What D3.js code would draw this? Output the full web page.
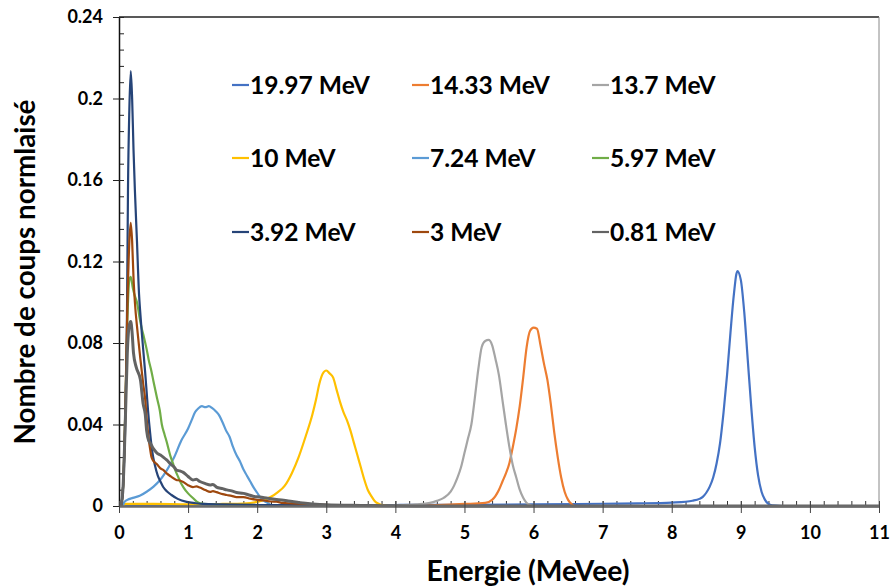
<!DOCTYPE html>
<html><head><meta charset="utf-8">
<script src="https://cdn.jsdelivr.net/npm/d3@7"></script>
<style>body{margin:0;background:#fff}svg{display:block}text{font-family:Lato,"Open Sans",sans-serif;font-weight:bold;fill:#000}</style>
</head><body>
<svg id="c" width="893" height="587"></svg>
<script>
// ---- data (energy MeVee, normalised counts) ----
const seriesNames = ["19.97 MeV","14.33 MeV","13.7 MeV","10 MeV","7.24 MeV","5.97 MeV","3.92 MeV","3 MeV","0.81 MeV"];
const seriesColors = ["#4472C4","#ED7D31","#A5A5A5","#FFC000","#5B9BD5","#70AD47","#264478","#9E480E","#636363"];
const xTicks = [0,1,2,3,4,5,6,7,8,9,10,11];
const yTicks = [0,0.04,0.08,0.12,0.16,0.2,0.24];
const yTickLabels = ["0","0.04","0.08","0.12","0.16","0.2","0.24"];

const s1997 = [[0.05,0],[1,0.0002],[2,0.0003],[3,0.0004],[4,0.0005],[5,0.0006],[6,0.0008],[7,0.0011],[7.5,0.0013],[8,0.0017],[8.2,0.0021],[8.3,0.0026],[8.4,0.0035],[8.45,0.0045],[8.5,0.0065],[8.55,0.0095],[8.6,0.014],[8.65,0.021],[8.7,0.031],[8.75,0.046],[8.8,0.064],[8.85,0.085],[8.9,0.104],[8.95,0.1153],[9.0,0.111],[9.05,0.095],[9.1,0.072],[9.15,0.049],[9.2,0.029],[9.25,0.015],[9.3,0.007],[9.35,0.003],[9.4,0.001],[9.45,0.0003],[9.6,0]];
const s1433 = [[4.3,0],[4.6,0.0005],[5.0,0.001],[5.3,0.0015],[5.4,0.003],[5.45,0.005],[5.5,0.008],[5.55,0.012],[5.6,0.016],[5.65,0.021],[5.7,0.029],[5.75,0.038],[5.8,0.049],[5.85,0.063],[5.9,0.078],[5.95,0.086],[6.0,0.0875],[6.05,0.087],[6.1,0.079],[6.15,0.07],[6.2,0.062],[6.25,0.05],[6.3,0.036],[6.35,0.024],[6.4,0.014],[6.45,0.007],[6.5,0.003],[6.55,0.001],[6.6,0],[6.7,0]];
const s1370 = [[3.5,0],[4.0,0.0003],[4.3,0.0008],[4.5,0.0015],[4.6,0.0025],[4.7,0.004],[4.8,0.007],[4.85,0.01],[4.9,0.014],[4.95,0.019],[5.0,0.026],[5.05,0.033],[5.1,0.04],[5.15,0.053],[5.2,0.067],[5.25,0.078],[5.3,0.081],[5.35,0.0815],[5.4,0.079],[5.45,0.072],[5.5,0.064],[5.55,0.052],[5.6,0.04],[5.65,0.029],[5.7,0.02],[5.75,0.014],[5.8,0.008],[5.85,0.004],[5.9,0.0015],[5.95,0.0005],[6.0,0]];
const s1000 = [[0.05,0],[0.1,0.001],[0.5,0.001],[1.0,0.0008],[1.5,0.001],[1.8,0.0012],[2.0,0.002],[2.1,0.003],[2.2,0.0045],[2.3,0.0068],[2.4,0.01],[2.5,0.016],[2.6,0.024],[2.7,0.034],[2.8,0.045],[2.85,0.052],[2.9,0.06],[2.95,0.065],[3.0,0.0665],[3.05,0.065],[3.1,0.063],[3.15,0.057],[3.2,0.051],[3.25,0.046],[3.3,0.042],[3.35,0.037],[3.4,0.031],[3.45,0.025],[3.5,0.019],[3.55,0.013],[3.6,0.008],[3.65,0.005],[3.7,0.0025],[3.75,0.0012],[3.8,0.0005],[3.9,0]];
const s724 = [[0.05,0],[0.08,0.002],[0.12,0.003],[0.2,0.004],[0.3,0.005],[0.4,0.007],[0.5,0.0095],[0.6,0.013],[0.7,0.018],[0.8,0.024],[0.9,0.032],[1.0,0.038],[1.05,0.042],[1.1,0.046],[1.15,0.048],[1.2,0.049],[1.25,0.0485],[1.3,0.049],[1.35,0.048],[1.4,0.0465],[1.45,0.0445],[1.5,0.041],[1.55,0.037],[1.6,0.034],[1.65,0.029],[1.7,0.025],[1.75,0.022],[1.8,0.018],[1.85,0.015],[1.9,0.012],[1.95,0.009],[2.0,0.0065],[2.05,0.004],[2.1,0.0025],[2.15,0.0015],[2.2,0.0005],[2.3,0]];
const s597 = [[0.03,0],[0.06,0.01],[0.09,0.045],[0.12,0.09],[0.15,0.111],[0.17,0.1125],[0.2,0.107],[0.23,0.103],[0.26,0.1],[0.3,0.092],[0.33,0.087],[0.36,0.083],[0.4,0.077],[0.43,0.0717],[0.47,0.066],[0.5,0.061],[0.55,0.053],[0.59,0.047],[0.62,0.04],[0.66,0.035],[0.69,0.0315],[0.74,0.025],[0.78,0.021],[0.81,0.018],[0.86,0.014],[0.9,0.011],[0.93,0.0093],[1.0,0.0062],[1.07,0.0039],[1.13,0.002],[1.22,0.001],[1.5,0.0005],[2,0.0003],[3,0]];
const s392 = [[0.03,0],[0.06,0.01],[0.09,0.04],[0.116,0.096],[0.13,0.155],[0.15,0.195],[0.17,0.2135],[0.19,0.2],[0.21,0.175],[0.23,0.155],[0.26,0.13],[0.29,0.104],[0.31,0.094],[0.33,0.085],[0.36,0.073],[0.38,0.065],[0.4,0.056],[0.42,0.047],[0.45,0.036],[0.48,0.027],[0.52,0.02],[0.56,0.015],[0.6,0.012],[0.64,0.0093],[0.7,0.007],[0.76,0.0054],[0.85,0.0035],[0.98,0.002],[1.1,0.0014],[1.22,0.001],[1.5,0.0008],[2,0.0005],[3,0.0003],[4,0]];
const s300 = [[0.03,0],[0.06,0.01],[0.09,0.045],[0.12,0.096],[0.15,0.13],[0.17,0.139],[0.19,0.13],[0.21,0.112],[0.23,0.1],[0.27,0.085],[0.31,0.072],[0.35,0.06],[0.38,0.052],[0.4,0.043],[0.43,0.033],[0.45,0.028],[0.47,0.024],[0.5,0.022],[0.55,0.0205],[0.6,0.0185],[0.64,0.0177],[0.69,0.016],[0.75,0.0145],[0.83,0.0128],[0.88,0.0125],[0.93,0.0118],[1.0,0.0102],[1.07,0.0093],[1.12,0.0096],[1.17,0.0091],[1.25,0.0078],[1.32,0.0069],[1.36,0.0073],[1.41,0.0068],[1.5,0.0058],[1.56,0.0054],[1.63,0.005],[1.7,0.0044],[1.8,0.0044],[1.9,0.0036],[2.0,0.003],[2.1,0.0027],[2.2,0.0022],[2.28,0.0021],[2.37,0.0015],[2.5,0.0013],[2.67,0.001],[2.86,0.0007],[3.2,0.0003],[4,0]];
const s081 = [[0.03,0],[0.06,0.01],[0.09,0.04],[0.12,0.075],[0.15,0.089],[0.17,0.0905],[0.19,0.085],[0.21,0.075],[0.25,0.068],[0.31,0.062],[0.35,0.05],[0.38,0.045],[0.4,0.037],[0.43,0.032],[0.45,0.031],[0.5,0.028],[0.55,0.026],[0.6,0.025],[0.64,0.024],[0.69,0.0226],[0.75,0.0205],[0.8,0.019],[0.83,0.0177],[0.88,0.0172],[0.93,0.0165],[1.0,0.0145],[1.07,0.0128],[1.12,0.0131],[1.17,0.012],[1.25,0.011],[1.32,0.0103],[1.36,0.0105],[1.41,0.0093],[1.5,0.0085],[1.56,0.0079],[1.63,0.0074],[1.7,0.0066],[1.8,0.0062],[1.87,0.0055],[1.94,0.0048],[2.04,0.0044],[2.15,0.0038],[2.28,0.0032],[2.45,0.0025],[2.62,0.0016],[2.8,0.001],[3.0,0.0006],[3.5,0.0003],[4,0.0001],[5,0],[11,0]];
const seriesData = [s1997,s1433,s1370,s1000,s724,s597,s392,s300,s081];

// ---- chart ----
const svg = d3.select("#c");
const L=119,R=879,T=17,B=506;
const x = d3.scaleLinear().domain([0,11]).range([L,R]);
const y = d3.scaleLinear().domain([0,0.24]).range([B,T]);

// frame
svg.append("line").attr("x1",L).attr("x2",R).attr("y1",T).attr("y2",T).attr("stroke","#222").attr("stroke-width",1.5);
svg.append("line").attr("x1",R).attr("x2",R).attr("y1",T).attr("y2",B).attr("stroke","#888").attr("stroke-width",1);

// y minor ticks (inside)
const yMinor = d3.range(0,0.2401,0.008);
svg.append("g").attr("transform",`translate(${L},0)`)
  .call(d3.axisRight(y).tickValues(yMinor).tickSize(5).tickFormat(""))
  .call(g=>g.select(".domain").remove())
  .selectAll("line").attr("stroke","#222");
// y major ticks + labels
const gy = svg.append("g").attr("transform",`translate(${L},0)`)
  .call(d3.axisLeft(y).tickValues(yTicks).tickSizeInner(6).tickSizeOuter(0).tickPadding(10)
    .tickFormat((d,i)=>yTickLabels[i]));
gy.select(".domain").attr("stroke","#111").attr("stroke-width",1.5);
gy.selectAll(".tick line").attr("stroke","#222").attr("x2",-6).attr("x1",5);
gy.selectAll("text").style("font-size","18px").attr("fill","#000");

// x minor ticks (inside)
const xMinor = d3.range(0,11.001,0.2);
svg.append("g").attr("transform",`translate(0,${B})`)
  .call(d3.axisTop(x).tickValues(xMinor).tickSize(5).tickFormat(""))
  .call(g=>g.select(".domain").remove())
  .selectAll("line").attr("stroke","#333");

// series
const line = d3.line().x(d=>x(d[0])).y(d=>y(d[1])).curve(d3.curveMonotoneX);
seriesData.forEach((s,i)=>{
  svg.append("path").datum(s).attr("d",line).attr("fill","none")
    .attr("stroke",seriesColors[i]).attr("stroke-width", i===8?3:2.2)
    .attr("stroke-linejoin","round");
});

// x axis
const gx = svg.append("g").attr("transform",`translate(0,${B})`)
  .call(d3.axisBottom(x).tickValues(xTicks).tickSizeInner(7).tickSizeOuter(0).tickPadding(13).tickFormat(d3.format("d")));
gx.select(".domain").attr("stroke","#6b6b6b").attr("stroke-width",2.5);
gx.selectAll(".tick line").attr("stroke","#444").attr("y1",-5);
gx.selectAll("text").style("font-size","18px").attr("fill","#000");

// axis titles
function fit(t, w){ const n=t.node(); const cur=parseFloat(t.style("font-size")); const s=cur*w/n.getComputedTextLength(); t.style("font-size",s+"px"); return s; }
const xt = svg.append("text").attr("x",528).attr("y",581).attr("text-anchor","middle").style("font-size","24px").text("Energie (MeVee)");
fit(xt,203);
const yt = svg.append("text").attr("transform","translate(35,272) rotate(-90)").attr("text-anchor","middle").style("font-size","22px").text("Nombre de coups normlaisé");
fit(yt,345);

// legend
const colX=[232,412,592], rowY=[85,158,232];
let legSize = 22;
seriesNames.forEach((n,i)=>{
  const cx=colX[i%3], cy=rowY[Math.floor(i/3)];
  svg.append("line").attr("x1",cx).attr("x2",cx+17).attr("y1",cy).attr("y2",cy).attr("stroke",seriesColors[i]).attr("stroke-width",2.2);
  const t = svg.append("text").attr("x",cx+18).attr("y",cy).attr("dy","0.36em").style("font-size",legSize+"px").text(n);
  if(i===0) legSize = fit(t,120);
});
</script>
</body></html>
